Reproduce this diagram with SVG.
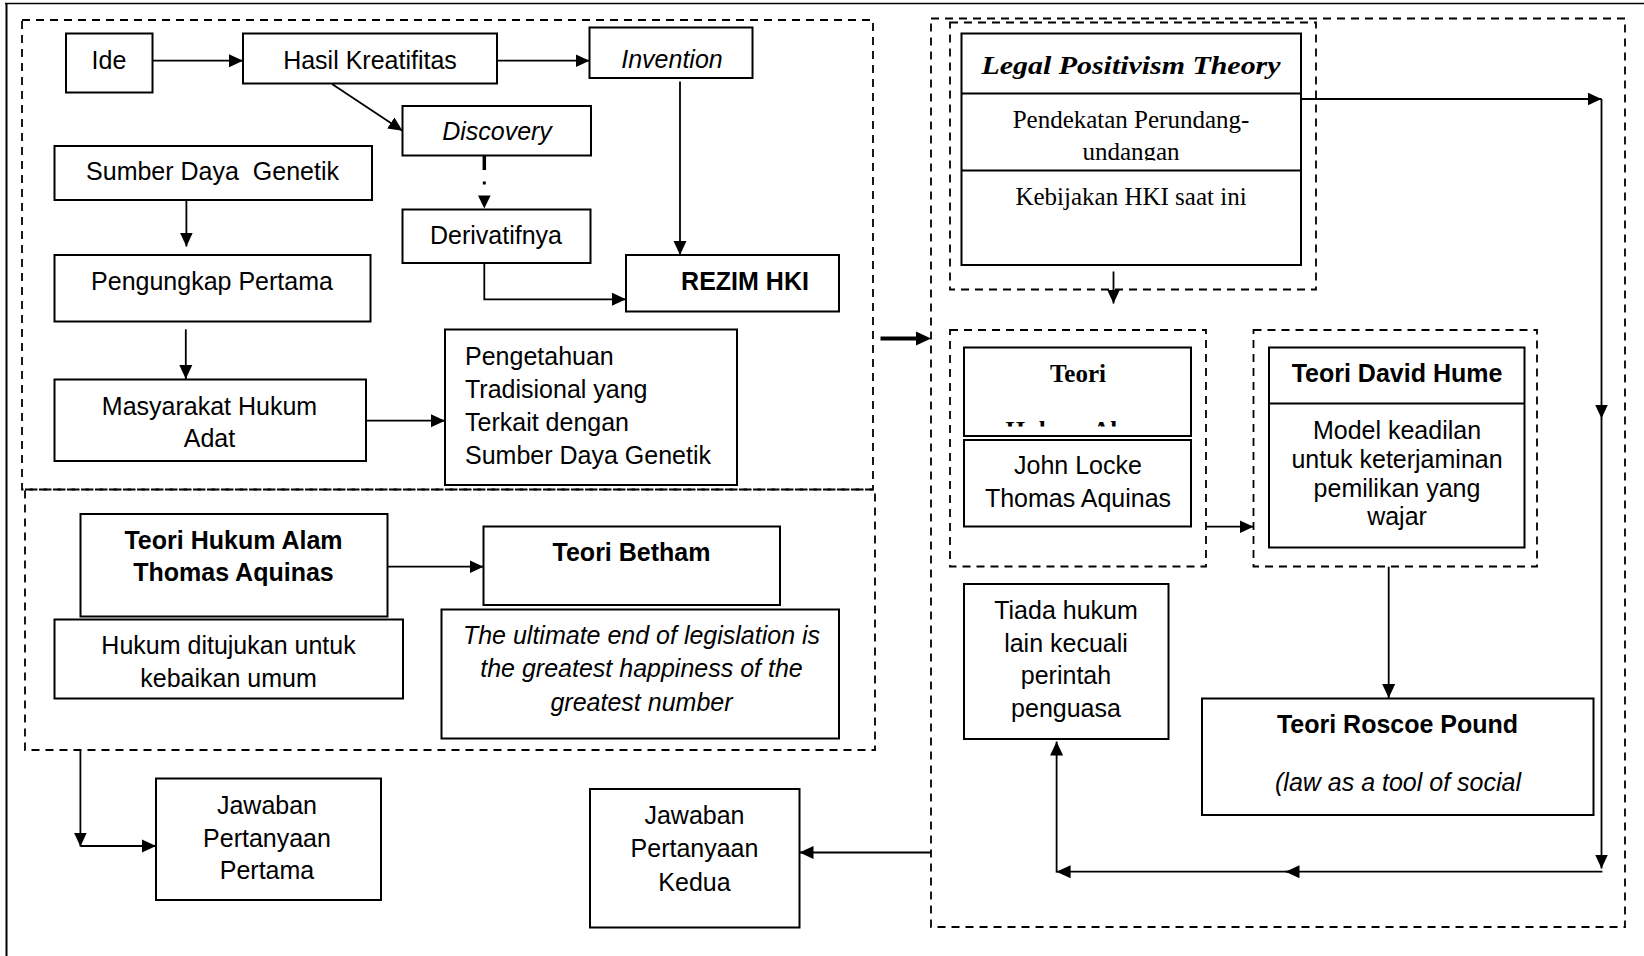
<svg xmlns="http://www.w3.org/2000/svg" width="1644" height="956" viewBox="0 0 1644 956">
<style>
.b{fill:#fff;stroke:#000;stroke-width:2}
.d{fill:none;stroke:#000;stroke-width:1.8;stroke-dasharray:8 6}
.c{fill:none;stroke:#000;stroke-width:1.8}
.t{font-family:"Liberation Sans",Arial,sans-serif;font-size:25px;fill:#000;text-anchor:middle;transform:translateY(2px)}
.l{text-anchor:start}
.bo{font-weight:bold}
.i{font-style:italic}
.s{font-family:"Liberation Serif","Times New Roman",serif}
</style>
<defs>
<marker id="a" viewBox="0 0 14 14" refX="14" refY="7" markerWidth="14" markerHeight="14" markerUnits="userSpaceOnUse" orient="auto"><path d="M0,0.5 L14,7 L0,13.5 Z" fill="#000"/></marker>
<clipPath id="cu"><rect x="961" y="94" width="340" height="64.5"/></clipPath>
<clipPath id="ch"><rect x="964" y="415" width="227" height="11.5"/></clipPath>
</defs>
<rect width="1644" height="956" fill="#fff"/>
<g id="frame">
<line x1="5" y1="3.5" x2="1644" y2="3.5" stroke="#000" stroke-width="1.5"/>
<line x1="6.5" y1="3" x2="6.5" y2="956" stroke="#000" stroke-width="2"/>
</g>
<g id="groups">
<rect class="d" x="22" y="20" width="851" height="469.5"/>
<rect class="d" x="25" y="489.5" width="850" height="260.5"/>
<rect class="d" x="931" y="18.5" width="694" height="908.5"/>
<rect class="d" x="950" y="22.5" width="366" height="267"/>
<rect class="d" x="950" y="330" width="256" height="236.5"/>
<rect class="d" x="1253.5" y="330" width="283.5" height="236.5"/>
</g>
<g id="ide"><rect class="b" x="66" y="33.5" width="86.5" height="59"/><text class="t" x="109" y="67">Ide</text></g>
<g id="hasil"><rect class="b" x="243" y="33.5" width="254" height="50"/><text class="t" x="370" y="67">Hasil Kreatifitas</text></g>
<g id="invention"><rect class="b" x="589.5" y="27.5" width="163" height="50.5"/><text class="t i" x="672" y="66">Invention</text></g>
<g id="discovery"><rect class="b" x="402.5" y="106" width="188.5" height="49.5"/><text class="t i" x="497" y="138">Discovery</text></g>
<g id="sdg"><rect class="b" x="54.5" y="146" width="317.5" height="54"/><text class="t" x="212.5" y="178" style="white-space:pre">Sumber Daya  Genetik</text></g>
<g id="derivatif"><rect class="b" x="402.5" y="209.5" width="188" height="53.5"/><text class="t" x="496" y="242">Derivatifnya</text></g>
<g id="rezim"><rect class="b" x="626" y="255" width="213" height="56.5"/><text class="t bo" x="745" y="288">REZIM HKI</text></g>
<g id="pengungkap"><rect class="b" x="54.5" y="255" width="316" height="66.5"/><text class="t" x="212" y="288">Pengungkap Pertama</text></g>
<g id="masyarakat"><rect class="b" x="54.5" y="379.5" width="311.5" height="81.5"/><text class="t" x="209.5" y="413">Masyarakat Hukum</text><text class="t" x="209.5" y="445">Adat</text></g>
<g id="pengetahuan"><rect class="b" x="445" y="329.5" width="292" height="155.5"/>
<text class="t l" x="465" y="363">Pengetahuan</text><text class="t l" x="465" y="396">Tradisional yang</text><text class="t l" x="465" y="429">Terkait dengan</text><text class="t l" x="465" y="462">Sumber Daya Genetik</text></g>
<g id="hukumalam"><rect class="b" x="80.5" y="514" width="307" height="102.5"/><text class="t bo" x="233.5" y="547">Teori Hukum Alam</text><text class="t bo" x="233.5" y="578.5">Thomas Aquinas</text></g>
<g id="betham"><rect class="b" x="483.5" y="526.5" width="296.5" height="78.5"/><text class="t bo" x="631.5" y="558.5">Teori Betham</text></g>
<g id="ditujukan"><rect class="b" x="54.5" y="619.5" width="348.5" height="79"/><text class="t" x="228.5" y="652">Hukum ditujukan untuk</text><text class="t" x="228.5" y="685">kebaikan umum</text></g>
<g id="ultimate"><rect class="b" x="441.5" y="609.5" width="397.5" height="129"/>
<text class="t i" x="641.5" y="642">The ultimate end of legislation is</text><text class="t i" x="641.5" y="675">the greatest happiness of the</text><text class="t i" x="641.5" y="708.5">greatest number</text></g>
<g id="pertama"><rect class="b" x="156" y="778.5" width="225" height="121.5"/><text class="t" x="267" y="812">Jawaban</text><text class="t" x="267" y="845">Pertanyaan</text><text class="t" x="267" y="877">Pertama</text></g>
<g id="kedua"><rect class="b" x="590" y="789" width="209.5" height="138.5"/><text class="t" x="694.5" y="822">Jawaban</text><text class="t" x="694.5" y="855">Pertanyaan</text><text class="t" x="694.5" y="888.5">Kedua</text></g>
<g id="legal"><rect class="b" x="961.5" y="33.5" width="339.5" height="231.5"/>
<line x1="961.5" y1="93.5" x2="1301" y2="93.5" stroke="#000" stroke-width="2"/>
<line x1="961.5" y1="170.5" x2="1301" y2="170.5" stroke="#000" stroke-width="2"/>
<text class="t s bo i" x="1131" y="71.5" font-size="30" textLength="299" lengthAdjust="spacingAndGlyphs">Legal Positivism Theory</text>
<text class="t s" x="1131" y="126">Pendekatan Perundang-</text>
<text class="t s" x="1131" y="158" clip-path="url(#cu)">undangan</text>
<text class="t s" x="1131" y="203">Kebijakan HKI saat ini</text></g>
<g id="teori"><rect class="b" x="964" y="347.5" width="227" height="88.5"/><text class="t s bo" x="1078" y="380" font-size="24">Teori</text><text class="t s bo" x="1078" y="439" font-size="24" clip-path="url(#ch)" style="transform:none">Hukum Alam</text></g>
<g id="locke"><rect class="b" x="964" y="440" width="227" height="86.5"/><text class="t" x="1078" y="472">John Locke</text><text class="t" x="1078" y="505">Thomas Aquinas</text></g>
<g id="hume"><rect class="b" x="1269" y="347.5" width="255.5" height="200"/>
<line x1="1269" y1="403.5" x2="1524.5" y2="403.5" stroke="#000" stroke-width="2"/>
<text class="t bo" x="1397" y="380">Teori David Hume</text>
<text class="t" x="1397" y="437">Model keadilan</text><text class="t" x="1397" y="466">untuk keterjaminan</text><text class="t" x="1397" y="494.5">pemilikan yang</text><text class="t" x="1397" y="523">wajar</text></g>
<g id="tiada"><rect class="b" x="964" y="584" width="204.5" height="155"/>
<text class="t" x="1066" y="617">Tiada hukum</text><text class="t" x="1066" y="650">lain kecuali</text><text class="t" x="1066" y="682">perintah</text><text class="t" x="1066" y="715">penguasa</text></g>
<g id="roscoe"><rect class="b" x="1202" y="698.5" width="391.5" height="116.5"/><text class="t bo" x="1397.5" y="731">Teori Roscoe Pound</text><text class="t i" x="1398" y="788.5">(law as a tool of social</text></g>
<g id="connectors">
<line class="c" x1="152.5" y1="60.7" x2="243" y2="60.7" marker-end="url(#a)"/>
<line class="c" x1="497" y1="60.7" x2="589.5" y2="60.7" marker-end="url(#a)"/>
<line class="c" x1="332" y1="84" x2="402.5" y2="130.7" marker-end="url(#a)"/>
<line x1="484.3" y1="156" x2="484.3" y2="170" stroke="#000" stroke-width="3.5"/>
<rect x="482.8" y="181.5" width="3" height="3" fill="#000"/>
<path d="M478,195.5 L490.6,195.5 L484.3,208.5 Z" fill="#000"/>
<line class="c" x1="680" y1="81.5" x2="680" y2="255" marker-end="url(#a)"/>
<polyline class="c" points="484.3,263 484.3,299.3 626,299.3" marker-end="url(#a)"/>
<line class="c" x1="186.4" y1="200" x2="186.4" y2="246.5" marker-end="url(#a)"/>
<line class="c" x1="185.8" y1="329.3" x2="185.8" y2="379" marker-end="url(#a)"/>
<line class="c" x1="366" y1="420.7" x2="445" y2="420.7" marker-end="url(#a)"/>
<line class="c" x1="387.5" y1="566.7" x2="483.5" y2="566.7" marker-end="url(#a)"/>
<line class="c" x1="80.4" y1="750" x2="80.4" y2="846.5" marker-end="url(#a)"/>
<line class="c" x1="80.4" y1="846" x2="156" y2="846" marker-end="url(#a)"/>
<line x1="880.5" y1="338.5" x2="918" y2="338.5" stroke="#000" stroke-width="4"/>
<path d="M916,331.5 L931,338.5 L916,345.5 Z" fill="#000"/>
<line class="c" x1="1113.5" y1="271.5" x2="1113.5" y2="303.5" marker-end="url(#a)"/>
<line class="c" x1="1301" y1="99" x2="1601.5" y2="99" marker-end="url(#a)"/>
<line class="c" x1="1601.5" y1="99" x2="1601.5" y2="418.5" marker-end="url(#a)"/>
<line class="c" x1="1601.5" y1="418" x2="1601.5" y2="868.5" marker-end="url(#a)"/>
<line class="c" x1="1602.4" y1="871.7" x2="1285.5" y2="871.7" marker-end="url(#a)"/>
<line class="c" x1="1290" y1="871.7" x2="1056.6" y2="871.7" marker-end="url(#a)"/>
<line class="c" x1="1056.6" y1="872.6" x2="1056.6" y2="741.5" marker-end="url(#a)"/>
<line class="c" x1="1206" y1="526.7" x2="1253.5" y2="526.7" marker-end="url(#a)"/>
<line class="c" x1="1388.7" y1="566.7" x2="1388.7" y2="698" marker-end="url(#a)"/>
<line class="c" x1="931" y1="852.5" x2="799.5" y2="852.5" marker-end="url(#a)"/>
</g>
</svg>
